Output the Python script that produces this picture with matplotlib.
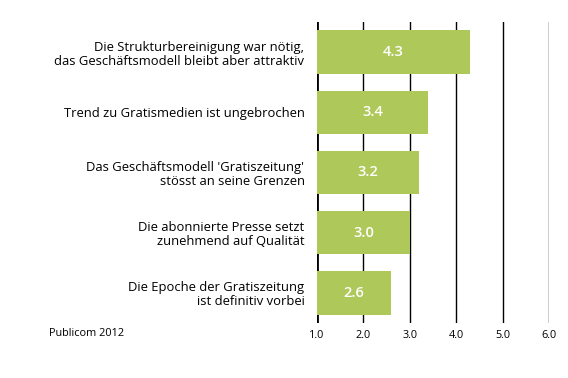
import matplotlib
matplotlib.use("Agg")
import matplotlib.pyplot as plt

labels = [
    "Die Strukturbereinigung war nötig,\ndas Geschäftsmodell bleibt aber attraktiv",
    "Trend zu Gratismedien ist ungebrochen",
    "Das Geschäftsmodell 'Gratiszeitung'\nstösst an seine Grenzen",
    "Die abonnierte Presse setzt\nzunehmend auf Qualität",
    "Die Epoche der Gratiszeitung\nist definitiv vorbei",
]
values = [4.3, 3.4, 3.2, 3.0, 2.6]
ticks = [1.0, 2.0, 3.0, 4.0, 5.0, 6.0]

plt.rcParams['font.family'] = ['Open Sans', 'DejaVu Sans']

fig = plt.figure(figsize=(5.68, 3.78), dpi=100)
ax = fig.add_axes([317/568, 1 - 323/378, (549 - 317)/568, (323 - 22)/378])

pos = list(range(len(values)))
for t in ticks[1:]:
    ax.axvline(t, color="black", lw=1.0, zorder=1)
ax.axvline(ticks[0], color="black", lw=2.0, zorder=1)

ax.barh(pos, [v - 1 for v in values], left=1, height=0.72, color="#aec85a", zorder=2)
for p, v in zip(pos, values):
    ax.text(1 + (v - 1) / 2, p, "%.1f" % v, color="white", fontsize=10.5,
            fontweight="semibold", ha="center", va="center", zorder=3)

ax.set_xlim(1, 6)
ax.set_ylim(len(values) - 0.5, -0.5)
ax.set_xticks(ticks)
ax.set_xticklabels(["%.1f" % t for t in ticks], fontsize=7.8)
ax.set_yticks(pos)
ax.set_yticklabels(labels, fontsize=9.4, linespacing=1.1)
ax.tick_params(length=0, pad=9)
ax.tick_params(axis="x", pad=5)
for s in ax.spines.values():
    s.set_visible(False)

fig.text(49/568, 1 - 333/378, "Publicom 2012", fontsize=7.8, ha="left", va="center")

fig.savefig("out.png", dpi=100)
